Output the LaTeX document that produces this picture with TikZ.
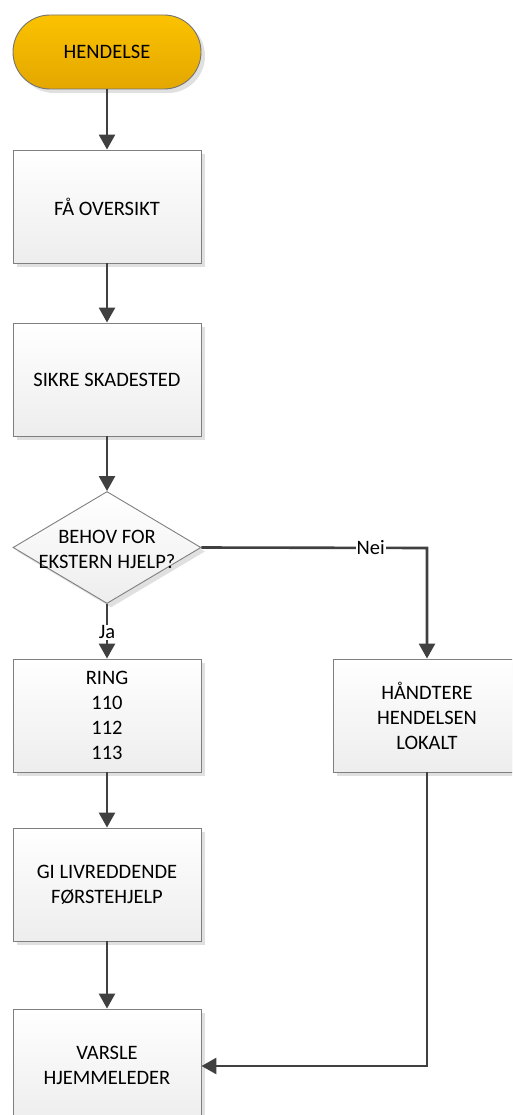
\documentclass[tikz,border=0pt]{standalone}
\usepackage{fontspec}
\setmainfont{Carlito}
\usetikzlibrary{arrows.meta,shapes.geometric,shadows}
\definecolor{gold1}{HTML}{FBC200}
\definecolor{gold2}{HTML}{E4A700}
\definecolor{boxline}{HTML}{7F7F7F}
\definecolor{arr}{HTML}{404040}
\begin{document}
\begin{tikzpicture}[x=1pt,y=1pt,
  every node/.style={font=\fontsize{20.5}{25}\selectfont},
  boxshadow/.style={drop shadow={shadow xshift=4pt,shadow yshift=-4pt,fill=black,opacity=0.12}},
  procbox/.style={draw=boxline,line width=0.9pt,top color=white,bottom color=black!7,
    minimum width=188pt,minimum height=113pt,inner sep=0pt,align=center,boxshadow},
  termbox/.style={draw=black!55,line width=0.9pt,top color=gold1,bottom color=gold2,
    minimum width=188pt,minimum height=74pt,rounded corners=37pt,inner sep=0pt,boxshadow},
  decbox/.style={diamond,draw=boxline,line width=0.9pt,top color=white,bottom color=black!7,
    minimum width=188pt,minimum height=112pt,inner sep=0pt,boxshadow},
  flow/.style={draw=arr,line width=2.6pt,-{Triangle[width=16pt,length=15pt]}},
  lbl/.style={fill=white,inner sep=1pt}
]
\useasboundingbox (0,0) rectangle (512,-1115);
\begin{scope}
\clip (0,0) rectangle (512,-1115);
\node[termbox] (start) at (107,-52) {HENDELSE};
\node[procbox] (b1) at (107,-206.5) {FÅ OVERSIKT};
\node[procbox] (b2) at (107,-379.5) {SIKRE SKADESTED};
\node[decbox] (d) at (107,-547.5) {};
\node[align=center] (dt) at (107,-549) {BEHOV FOR\\EKSTERN HJELP?};
\node[procbox] (ring) at (107,-715.5) {RING\\110\\112\\113};
\node[procbox] (lok) at (427,-715.5) {HÅNDTERE\\HENDELSEN\\LOKALT};
\node[procbox] (gi) at (107,-884.5) {GI LIVREDDENDE\\FØRSTEHJELP};
\node[procbox] (var) at (107,-1065.5) {VARSLE\\HJEMMELEDER};
\coordinate (c1) at (427,-548);
\coordinate (c2) at (427,-1066);
\draw[flow] (start) -- (b1);
\draw[flow] (b1) -- (b2);
\draw[flow] (b2) -- (d);
\draw[flow] (d) -- node[lbl,pos=0.52] {Ja} (ring);
\draw[flow] (d.east) -- node[lbl,pos=0.75] {Nei} (c1) -- (lok);
\draw[flow] (gi) -- (var);
\draw[flow] (ring) -- (gi);
\draw[flow] (lok) -- (c2) -- (var.east |- c2);
\end{scope}
\end{tikzpicture}
\end{document}
